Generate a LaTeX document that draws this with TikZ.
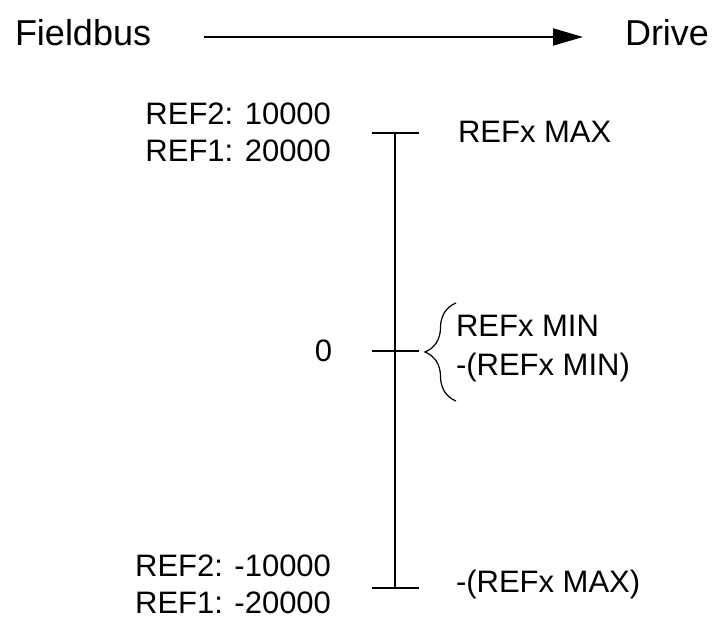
\documentclass[tikz,border=0pt]{standalone}
\usepackage{fontspec}
\setmainfont{Liberation Sans}
\usetikzlibrary{arrows.meta,calc,decorations.pathreplacing,positioning}

\begin{document}
\begin{tikzpicture}[x=0.5pt,y=0.5pt,line width=1pt,
    every node/.style={inner sep=0pt,font=\fontsize{15.5}{18.5}\selectfont}]
    \tikzset{HeadStyle/.style={font=\fontsize{18}{22}\selectfont},
      BraceStyle/.style={decorate,decoration={brace,amplitude=15.5pt},line width=0.6pt},
      ArrowStyle/.style={-{Triangle[length=15pt,width=8.5pt]}}}
    \useasboundingbox (0,0) rectangle (712,619);

    \node[HeadStyle,anchor=base west] (Fb) at (14,573) {Fieldbus};
    \node[HeadStyle,anchor=base west] (Dr) at (624,573) {Drive};
    \coordinate (A0) at (204,582);
    \coordinate (A1) at (583,582);
    \draw[ArrowStyle] (A0) -- (A1);

    \coordinate (Top) at (394.5,486);
    \coordinate (Zero) at (394.5,268);
    \coordinate (Bot) at (394.5,31);
    \draw (Top) -- (Bot);
    \foreach \p in {Top,Zero,Bot}
      \draw ($(\p)-(23,0)$) -- ($(\p)+(24,0)$);

    \node[align=right,anchor=east] (RefMax) at (332,486.5) {REF2: 10000\\REF1: 20000};
    \node[anchor=base west] (Max) at (457,476) {REFx MAX};
    \node[anchor=base east] (Nul) at (333,257) {0};
    \node[align=left,anchor=west,font=\fontsize{15.5}{19.5}\selectfont] (Min) at (455,270) {REFx MIN\\-(REFx MIN)};
    \draw[BraceStyle] (456,218) -- (456,316);
    \node[align=right,anchor=east] (RefMin) at (332,35) {REF2: -10000\\REF1: -20000};
    \node[anchor=base west] (MaxN) at (455,26) {-(REFx MAX)};
  \end{tikzpicture}
\end{document}
